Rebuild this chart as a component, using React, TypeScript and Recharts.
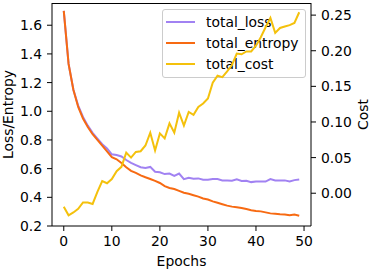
import React from "react";
import { LineChart, Line, XAxis, YAxis } from "recharts";

const epochs = [
  0, 1, 2, 3, 4, 5, 6, 7, 8, 9, 10, 11, 12, 13, 14, 15, 16, 17, 18, 19, 20, 21, 22, 23, 24,
  25, 26, 27, 28, 29, 30, 31, 32, 33, 34, 35, 36, 37, 38, 39, 40, 41, 42, 43, 44, 45, 46, 47, 48, 49,
];

const totalLoss = [
  1.7, 1.33, 1.15, 1.04, 0.96, 0.9, 0.85, 0.81, 0.77, 0.74, 0.7, 0.695, 0.685, 0.66, 0.64, 0.625,
  0.61, 0.605, 0.612, 0.578, 0.575, 0.562, 0.566, 0.55, 0.566, 0.527, 0.537, 0.53, 0.532, 0.522,
  0.522, 0.527, 0.527, 0.518, 0.517, 0.515, 0.525, 0.514, 0.516, 0.506, 0.51, 0.51, 0.51, 0.527,
  0.518, 0.517, 0.518, 0.51, 0.52, 0.524,
];

const totalEntropy = [
  1.7, 1.33, 1.15, 1.03, 0.95, 0.89, 0.84, 0.8, 0.76, 0.72, 0.68, 0.665, 0.64, 0.61, 0.585, 0.57,
  0.553, 0.54, 0.528, 0.515, 0.5, 0.478, 0.465, 0.458, 0.445, 0.432, 0.425, 0.415, 0.405, 0.392,
  0.385, 0.372, 0.362, 0.352, 0.342, 0.335, 0.33, 0.325, 0.318, 0.31, 0.305, 0.302, 0.295, 0.288,
  0.285, 0.282, 0.28, 0.275, 0.28, 0.272,
];

const totalCost = [
  -0.019, -0.031, -0.027, -0.022, -0.013, -0.013, -0.015, 0.002, 0.017, 0.014, 0.02, 0.031, 0.037,
  0.057, 0.05, 0.058, 0.059, 0.067, 0.085, 0.06, 0.084, 0.077, 0.098, 0.085, 0.113, 0.095, 0.114,
  0.11, 0.121, 0.126, 0.133, 0.155, 0.165, 0.163, 0.171, 0.18, 0.196, 0.195, 0.199, 0.199, 0.207,
  0.219, 0.233, 0.246, 0.225, 0.232, 0.234, 0.236, 0.239, 0.254,
];

const xTicks = [0, 10, 20, 30, 40, 50];
const leftTicks = [0.2, 0.4, 0.6, 0.8, 1.0, 1.2, 1.4, 1.6];
const rightTicks = [0, 0.05, 0.1, 0.15, 0.2, 0.25];

const data = epochs.map((epoch, i) => ({
  epoch,
  total_loss: totalLoss[i],
  total_entropy: totalEntropy[i],
  total_cost: totalCost[i],
}));

const FONT = "DejaVu Sans";
const FS = 13.9;
const tickStyle = { fill: "#000", fontSize: FS, fontFamily: FONT };

const series = [
  { key: "total_loss", color: "#a182f2" },
  { key: "total_entropy", color: "#f76a12" },
  { key: "total_cost", color: "#f4c10c" },
];

const Legend = () => (
  <div
    style={{
      position: "absolute",
      left: 161.5,
      top: 9.3,
      width: 142,
      height: 67,
      border: "1px solid #cccccc",
      borderRadius: 3,
      background: "rgba(255,255,255,0.8)",
      fontFamily: FONT,
      fontSize: FS,
      color: "#000",
      zIndex: 0,
    }}
  >
    {series.map((s, i) => (
      <div key={s.key}>
        <div
          style={{
            position: "absolute",
            left: 3,
            top: 10.7 + i * 20.9,
            width: 29,
            height: 2,
            background: s.color,
          }}
        />
        <div
          style={{
            position: "absolute",
            left: 43.5,
            top: 11.7 + i * 20.9 - 9,
            lineHeight: "18px",
            whiteSpace: "nowrap",
          }}
        >
          {s.key}
        </div>
      </div>
    ))}
  </div>
);

export default function App() {
  return (
    <div style={{ position: "absolute", left: 0, top: 0, width: 371, height: 271 }}>
      <Legend />
      {/* top spine of the axes box */}
      <div
        style={{
          position: "absolute",
          left: 52,
          top: 2.5,
          width: 259,
          height: 1,
          background: "#000",
          zIndex: 2,
        }}
      />
      <div style={{ position: "absolute", left: 0, top: 0, zIndex: 1 }}>
        <LineChart
          width={371}
          height={271}
          data={data}
          margin={{ top: 3, right: 0, bottom: 0, left: 0 }}
        >
          <XAxis
            dataKey="epoch"
            type="number"
            domain={[-2.45, 51.45]}
            ticks={xTicks}
            allowDataOverflow
            height={45}
            tickSize={5}
            tickMargin={5}
            tick={tickStyle}
            stroke="#000"
            label={() => (
              <text x={181.5} y={265.7} textAnchor="middle" fill="#000" fontSize={FS} fontFamily={FONT}>
                Epochs
              </text>
            )}
          />
          <YAxis
            yAxisId="left"
            domain={[0.2, 1.755]}
            ticks={leftTicks}
            allowDataOverflow
            width={52}
            tickSize={5}
            tickMargin={5}
            tick={tickStyle}
            stroke="#000"
            tickFormatter={(v: number) => v.toFixed(1)}
            label={() => (
              <text
                x={12.8}
                y={114.5}
                transform="rotate(-90 12.8 114.5)"
                textAnchor="middle"
                fill="#000"
                fontSize={FS}
                fontFamily={FONT}
              >
                Loss/Entropy
              </text>
            )}
          />
          <YAxis
            yAxisId="right"
            orientation="right"
            domain={[-0.046, 0.267]}
            ticks={rightTicks}
            allowDataOverflow
            width={60}
            tickSize={5}
            tickMargin={5}
            tick={tickStyle}
            stroke="#000"
            tickFormatter={(v: number) => v.toFixed(2)}
            label={() => (
              <text
                x={367.8}
                y={114.5}
                transform="rotate(-90 367.8 114.5)"
                textAnchor="middle"
                fill="#000"
                fontSize={FS}
                fontFamily={FONT}
              >
                Cost
              </text>
            )}
          />
          <Line
            yAxisId="left"
            type="linear"
            dataKey="total_loss"
            stroke={series[0].color}
            strokeWidth={2}
            dot={false}
            isAnimationActive={false}
          />
          <Line
            yAxisId="left"
            type="linear"
            dataKey="total_entropy"
            stroke={series[1].color}
            strokeWidth={2}
            dot={false}
            isAnimationActive={false}
          />
          <Line
            yAxisId="right"
            type="linear"
            dataKey="total_cost"
            stroke={series[2].color}
            strokeWidth={2}
            dot={false}
            isAnimationActive={false}
          />
        </LineChart>
      </div>
    </div>
  );
}
